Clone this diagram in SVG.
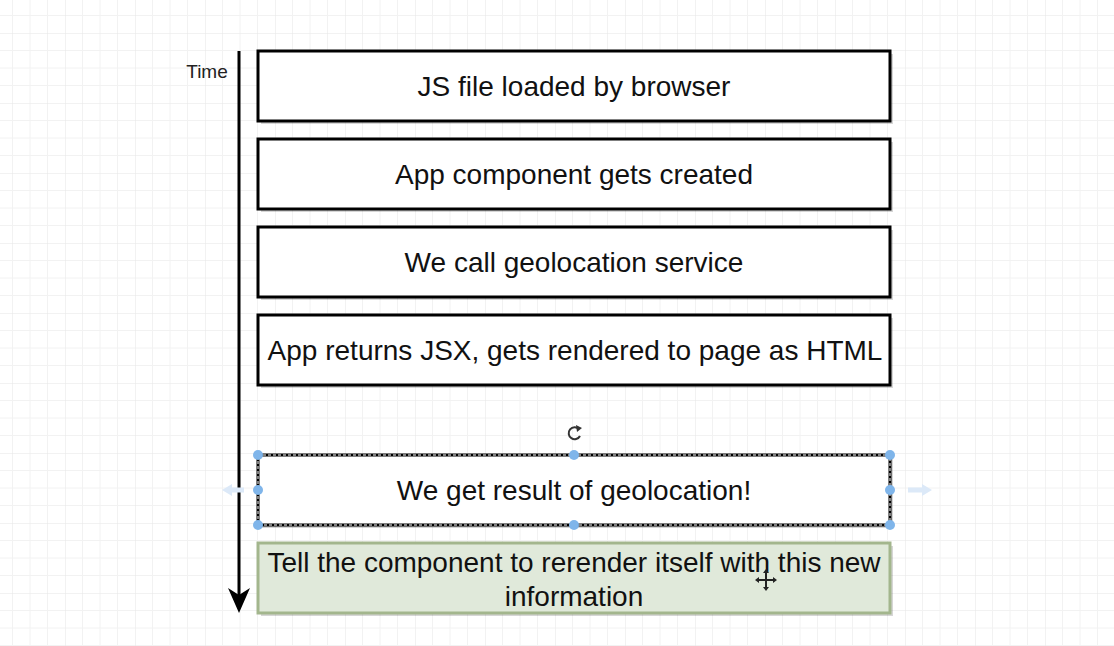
<svg xmlns="http://www.w3.org/2000/svg" width="1114" height="646" viewBox="0 0 1114 646">
  <style>
    .box { fill: #ffffff; stroke: #000000; stroke-width: 3; }
    .shadow { fill: #000000; opacity: 0.16; }
    .lbl { font-family: "Liberation Sans", Arial, sans-serif; font-size: 28px; fill: #111111; text-anchor: middle; }
    .handle { fill: #7fb5ea; }
    .ghost { fill: #dce9f8; }
  </style>
  <defs>
    <pattern id="grid" patternUnits="userSpaceOnUse" x="135" y="103" width="70" height="70">
      <path d="M17.5 0V70M35 0V70M52.5 0V70M0 17.5H70M0 35H70M0 52.5H70" stroke="#f2f2f2" stroke-width="1" fill="none"/>
      <path d="M0 0V70M0 0H70" stroke="#e6e6e6" stroke-width="1" fill="none"/>
    </pattern>
  </defs>
  <rect width="1114" height="646" fill="#ffffff"/>
  <rect width="1114" height="646" fill="url(#grid)"/>

  <g id="connectors">
    <line x1="239" y1="51" x2="239" y2="596" stroke="#000" stroke-width="3"/>
    <path d="M228 588L239 613L250 588L239 595Z" fill="#000"/>
  </g>

  <text id="time-label" x="207" y="78" font-family="Liberation Sans, Arial, sans-serif" font-size="19" fill="#222" text-anchor="middle">Time</text>

  <g id="node1">
    <rect class="shadow" x="261" y="54" width="632" height="70"/>
    <rect class="box" x="258" y="51" width="632" height="70"/>
    <text class="lbl" x="574" y="96">JS file loaded by browser</text>
  </g>
  <g id="node2">
    <rect class="shadow" x="261" y="142" width="632" height="70"/>
    <rect class="box" x="258" y="139" width="632" height="70"/>
    <text class="lbl" x="574" y="184">App component gets created</text>
  </g>
  <g id="node3">
    <rect class="shadow" x="261" y="230" width="632" height="70"/>
    <rect class="box" x="258" y="227" width="632" height="70"/>
    <text class="lbl" x="574" y="272">We call geolocation service</text>
  </g>
  <g id="node4">
    <rect class="shadow" x="261" y="318" width="632" height="70"/>
    <rect class="box" x="258" y="315" width="632" height="70"/>
    <text class="lbl" x="575" y="360">App returns JSX, gets rendered to page as HTML</text>
  </g>
  <g id="node5">
    <rect class="shadow" x="261" y="458" width="632" height="70"/>
    <rect class="box" x="258" y="455" width="632" height="70"/>
    <rect x="258" y="455" width="632" height="70" fill="none" stroke="#ffffff" stroke-width="1" stroke-dasharray="3 2"/>
    <text class="lbl" x="574" y="500">We get result of geolocation!</text>
    <path class="ghost" d="M222 490L232 484V487.5H244V492.5H232V496Z"/>
    <path class="ghost" d="M932 490L922 484V487.5H908V492.5H922V496Z"/>
    <circle class="handle" cx="258" cy="455" r="5"/>
    <circle class="handle" cx="574" cy="455" r="5"/>
    <circle class="handle" cx="890" cy="455" r="5"/>
    <circle class="handle" cx="258" cy="490" r="5"/>
    <circle class="handle" cx="890" cy="490" r="5"/>
    <circle class="handle" cx="258" cy="525" r="5"/>
    <circle class="handle" cx="574" cy="525" r="5"/>
    <circle class="handle" cx="890" cy="525" r="5"/>
    <path d="M579 429A6 6 0 1 0 580 436" fill="none" stroke="#333" stroke-width="2"/>
    <path d="M576 425L582 428L577 432Z" fill="#333"/>
  </g>
  <g id="node6">
    <rect class="shadow" x="261" y="546" width="632" height="70"/>
    <rect x="258" y="543" width="632" height="70" fill="#e0e9da" stroke="#a3b68d" stroke-width="3"/>
    <text class="lbl" x="574" y="572">Tell the component to rerender itself with this new</text>
    <text class="lbl" x="574" y="606">information</text>
    <path d="M766 572V588M758 580H774" stroke="#222" stroke-width="2"/>
    <path d="M766 569L763 573H769Z M766 591L763 587H769Z M755 580L759 577V583Z M777 580L773 577V583Z" fill="#222"/>
  </g>
</svg>
